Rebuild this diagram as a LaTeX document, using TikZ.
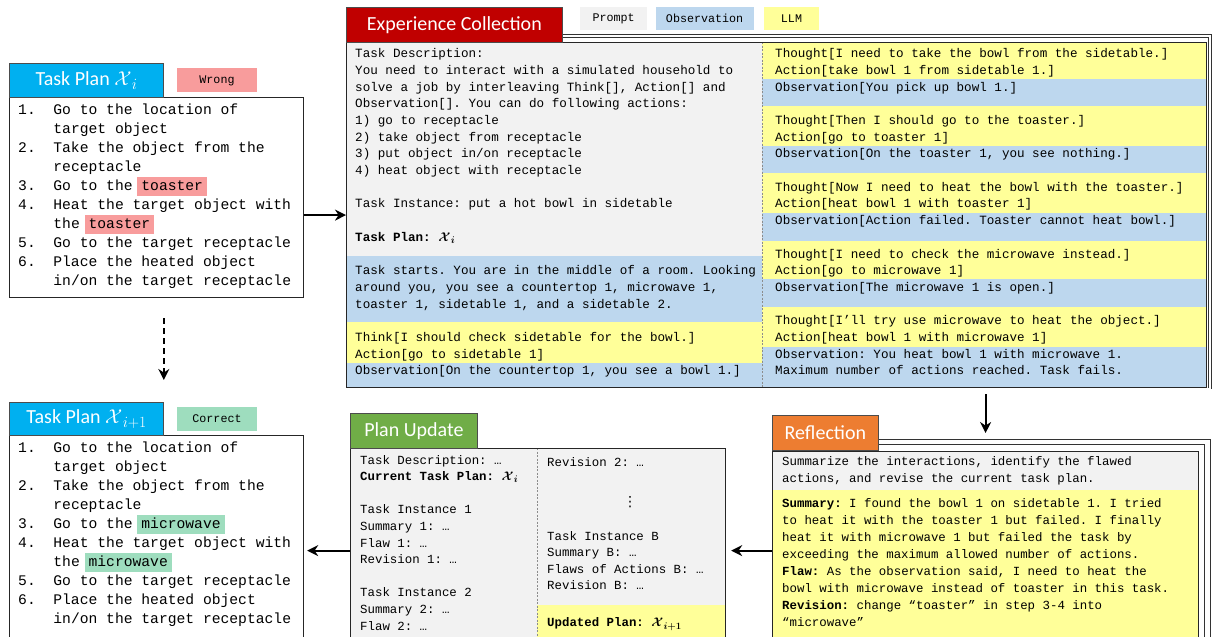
\RequirePackage{fix-cm}
\documentclass[tikz,border=0pt]{standalone}
\usepackage{amsmath}
\usepackage{amssymb}
\usepackage{graphicx}
\usepackage{fontspec}
\setmainfont{Carlito}
\setmonofont{Liberation Mono}
\newfontfamily\dotsfont{DejaVu Sans}
\usepackage{tikz}
\usetikzlibrary{arrows.meta,arrows}
\usetikzlibrary{positioning}
\usetikzlibrary{calc, shapes, backgrounds}

\definecolor{planblue}{HTML}{00B0F0}
\definecolor{expred}{HTML}{C00000}
\definecolor{updgreen}{HTML}{70AD47}
\definecolor{reforange}{HTML}{ED7D31}
\definecolor{promptgray}{HTML}{F2F2F2}
\definecolor{obsblue}{HTML}{BDD7EE}
\definecolor{llmyellow}{HTML}{FFFF99}
\definecolor{wrongred}{HTML}{F89C9C}
\definecolor{rightgreen}{HTML}{9EDDBE}

\newcommand{\hlw}[2]{{\setlength{\fboxsep}{0pt}\hspace{-4pt}\colorbox{#1}{\hspace{4pt}\strut #2\hspace{4pt}}\hspace{-4pt}}}
\newcommand{\planind}{\hspace*{35.2pt}}
\newcommand{\stepno}[1]{\makebox[35.2pt][l]{#1}}
\newcommand{\planX}[1]{$\mathcal{X}$\kern0.02em\raisebox{-0.35ex}{\scalebox{0.78}{$#1$}}}
\newcommand{\bX}[1]{$\boldsymbol{\mathcal{X}}$\kern0.02em\raisebox{-0.35ex}{\scalebox{0.78}{$\boldsymbol{#1}$}}}

\begin{document}
\begin{tikzpicture}[x=1pt,y=-1pt]
\tikzstyle{panel}=[draw=black!85,line width=1.2pt,anchor=north west,inner sep=0]
\tikzstyle{head}=[draw=black!70,line width=0.8pt,anchor=north west,inner sep=0,text=white,font=\fontsize{20}{24}\selectfont]
\tikzstyle{tag}=[minimum width=80pt,minimum height=24pt,inner sep=0,font=\ttfamily\fontsize{11.7}{14}\selectfont]
\tikzstyle{sheet}=[draw=black!80,line width=0.8pt]
\tikzset{
  plantext/.style = {anchor=north west, inner sep=0, align=left, font=\ttfamily\fontsize{14.67}{19}\selectfont, execute at begin node=\strut},
  logtext/.style  = {anchor=north west, inner sep=0, align=left, font=\ttfamily\fontsize{12.6}{16.7}\selectfont, execute at begin node=\strut},
  reftext/.style  = {anchor=north west, inner sep=0, align=left, font=\ttfamily\fontsize{12.4}{17}\selectfont, execute at begin node=\strut},
  updtext/.style  = {anchor=north west, inner sep=0, align=left, font=\ttfamily\fontsize{12.4}{16.6}\selectfont, execute at begin node=\strut},
  divider/.style  = {draw=black!45, line width=0.6pt, dash pattern=on 2pt off 1.5pt},
  arr/.style      = {line width=1.8pt, -{Stealth[length=11pt,width=11pt]}},
  darr/.style     = {arr, dash pattern=on 6pt off 4pt}
}
\useasboundingbox (0,0) rectangle (1213,637);
\clip (0,0) rectangle (1213,637);

    %%%%%%%%%%%%%%%%%%%% stacked sheets
    \draw[sheet] (346,34) -- (1211,34) -- (1211,388.5);
    \draw[sheet] (346,37.5) -- (1208.5,37.5) -- (1208.5,388);
    \draw[sheet] (772,439) -- (1210,439) -- (1210,650);
    \draw[sheet] (772,444.5) -- (1204,444.5) -- (1204,650);

    %%%%%%%%%%%%%%%%%%%% experience collection fills
    \fill[promptgray] (346,42) rectangle (762,256);
    \fill[obsblue] (346,256) rectangle (762,322);
    \fill[llmyellow] (346,322) rectangle (762,363);
    \fill[obsblue] (346,363) rectangle (762,387);
    \fill[llmyellow] (762,42) rectangle (1206,387);
    \fill[obsblue] (762,79) rectangle (1206,106);
    \fill[obsblue] (762,146) rectangle (1206,173);
    \fill[obsblue] (762,213) rectangle (1206,241);
    \fill[obsblue] (762,279) rectangle (1206,307);
    \fill[obsblue] (762,347) rectangle (1206,387);
    \draw[divider] (762,42) -- (762,387);

    %%%%%%%%%%%%%%%%%%%% reflection and plan update fills
    \fill[promptgray] (772,451) rectangle (1198,490);
    \fill[llmyellow] (772,490) rectangle (1198,649);
    \fill[promptgray] (350,448) rectangle (725,652);
    \fill[llmyellow] (537,605) rectangle (725,652);
    \draw[divider] (537,448) -- (537,652);

    %%%%%%%%%%%%%%%%%%%% boxes
    \node[panel, fill=white, minimum width=294pt, minimum height=200pt] (plan1) at (9,97) {};
    \node[panel, fill=white, minimum width=294pt, minimum height=230pt] (plan2) at (9,435) {};
    \node[panel, minimum width=860pt, minimum height=345pt] (expbox) at (346,42) {};
    \node[panel, minimum width=426pt, minimum height=198pt] (refl) at (772,451) {};
    \node[panel, minimum width=375pt, minimum height=204pt] (upd) at (350,448) {};

    %%%%%%%%%%%%%%%%%%%% headers and tags
    \node[head, fill=planblue, minimum width=154pt, minimum height=34pt] (head1) at (9,63) {Task Plan \planX{i}};
    \node[tag, fill=wrongred, right=13pt of head1] (wrong) {Wrong};
    \node[head, fill=planblue, minimum width=154pt, minimum height=33pt] (head2) at (9,402) {Task Plan \planX{i{+}1}};
    \node[tag, fill=rightgreen, right=13pt of head2] (correct) {Correct};
    \node[head, fill=expred, minimum width=216pt, minimum height=35pt] (exphead) at (346,7) {Experience Collection};
    \node[head, fill=updgreen, minimum width=127pt, minimum height=35pt] (updhead) at (350,413) {Plan Update};
    \node[head, fill=reforange, minimum width=106pt, minimum height=35pt] (reflhead) at (772,415) {Reflection};
    \node[tag, fill=promptgray, minimum width=67pt, minimum height=23pt, anchor=north west] (prompt) at (580,7) {Prompt};
    \node[tag, fill=obsblue, minimum width=98pt, minimum height=23pt, right=8pt of prompt] (obs) {Observation};
    \node[tag, fill=llmyellow, minimum width=55pt, minimum height=23pt, right=10pt of obs] (llm) {LLM};

    %%%%%%%%%%%%%%%%%%%% task plans
    \node[plantext] (plan1txt) at (18,103.7) {\stepno{1.}Go to the location of\\
      \planind target object\\
      \stepno{2.}Take the object from the\\
      \planind receptacle\\
      \stepno{3.}Go to the \hlw{wrongred}{toaster}\\
      \stepno{4.}Heat the target object with\\
      \planind the \hlw{wrongred}{toaster}\\
      \stepno{5.}Go to the target receptacle\\
      \stepno{6.}Place the heated object\\
      \planind in/on the target receptacle};
    \node[plantext] (plan2txt) at (18,441.7) {\stepno{1.}Go to the location of\\
      \planind target object\\
      \stepno{2.}Take the object from the\\
      \planind receptacle\\
      \stepno{3.}Go to the \hlw{rightgreen}{microwave}\\
      \stepno{4.}Heat the target object with\\
      \planind the \hlw{rightgreen}{microwave}\\
      \stepno{5.}Go to the target receptacle\\
      \stepno{6.}Place the heated object\\
      \planind in/on the target receptacle};

    %%%%%%%%%%%%%%%%%%%% experience collection
    \node[logtext] (prompttxt) at (355,48.3) {Task Description:\\
      You need to interact with a simulated household to\\
      solve a job by interleaving Think[], Action[] and\\
      Observation[]. You can do following actions:\\
      1) go to receptacle\\
      2) take object from receptacle\\
      3) put object in/on receptacle\\
      4) heat object with receptacle\\
      \mbox{}\\
      Task Instance: put a hot bowl in sidetable\\
      \mbox{}\\
      \textbf{Task Plan:} \bX{i}\\
      \mbox{}\\
      Task starts. You are in the middle of a room. Looking\\
      around you, you see a countertop 1, microwave 1,\\
      toaster 1, sidetable 1, and a sidetable 2.\\
      \mbox{}\\
      Think[I should check sidetable for the bowl.]\\
      Action[go to sidetable 1]\\
      Observation[On the countertop 1, you see a bowl 1.]};
    \node[logtext] (trajtxt) at (775,48.3) {Thought[I need to take the bowl from the sidetable.]\\
      Action[take bowl 1 from sidetable 1.]\\
      Observation[You pick up bowl 1.]\\
      \mbox{}\\
      Thought[Then I should go to the toaster.]\\
      Action[go to toaster 1]\\
      Observation[On the toaster 1, you see nothing.]\\
      \mbox{}\\
      Thought[Now I need to heat the bowl with the toaster.]\\
      Action[heat bowl 1 with toaster 1]\\
      Observation[Action failed. Toaster cannot heat bowl.]\\
      \mbox{}\\
      Thought[I need to check the microwave instead.]\\
      Action[go to microwave 1]\\
      Observation[The microwave 1 is open.]\\
      \mbox{}\\
      Thought[I’ll try use microwave to heat the object.]\\
      Action[heat bowl 1 with microwave 1]\\
      Observation: You heat bowl 1 with microwave 1.\\
      Maximum number of actions reached. Task fails.};

    %%%%%%%%%%%%%%%%%%%% reflection
    \node[reftext] (reflprompt) at (782,456.1) {Summarize the interactions, identify the flawed\\
      actions, and revise the current task plan.};
    \node[reftext] (refltxt) at (782,498.1) {\textbf{Summary:} I found the bowl 1 on sidetable 1. I tried\\
      to heat it with the toaster 1 but failed. I finally\\
      heat it with microwave 1 but failed the task by\\
      exceeding the maximum allowed number of actions.\\
      \textbf{Flaw:} As the observation said, I need to heat the\\
      bowl with microwave instead of toaster in this task.\\
      \textbf{Revision:} change “toaster” in step 3-4 into\\
      “microwave”};

    %%%%%%%%%%%%%%%%%%%% plan update
    \node[updtext] (updleft) at (360,454.9) {Task Description: …\\
      \textbf{Current Task Plan:} \bX{i}\\
      \mbox{}\\
      Task Instance 1\\
      Summary 1: …\\
      Flaw 1: …\\
      Revision 1: …\\
      \mbox{}\\
      Task Instance 2\\
      Summary 2: …\\
      Flaw 2: …};
    \node[updtext] (rev2) at (547,454.9) {Revision 2: …};
    \node[font=\dotsfont\fontsize{14}{16}\selectfont, inner sep=0] (vdots) at (630,502) {⋮};
    \node[updtext] (instb) at (547,530.9) {Task Instance B\\
      Summary B: …\\
      Flaws of Actions B: …\\
      Revision B: …};
    \node[updtext] (newplan) at (547,614.9) {\textbf{Updated Plan:} \bX{i{+}1}};

    %%%%%%%%%%%%%%%%%%%% arrows
    \draw[arr] (plan1.east |- expbox.west) -- (expbox.west);
    \draw[darr] ($(head1.east |- plan1.south)+(0,20)$) -- ($(head2.north east)+(0,-22)$);
    \draw[arr] ($(refl.north |- expbox.south)+(0,6)$) -- ($(refl.north)+(0,-18)$);
    \draw[arr] (refl.west) -- ($(upd.east)+(5,0)$);
    \draw[arr] (upd.west) -- ($(plan2.east)+(3,0)$);
\end{tikzpicture}
\end{document}
